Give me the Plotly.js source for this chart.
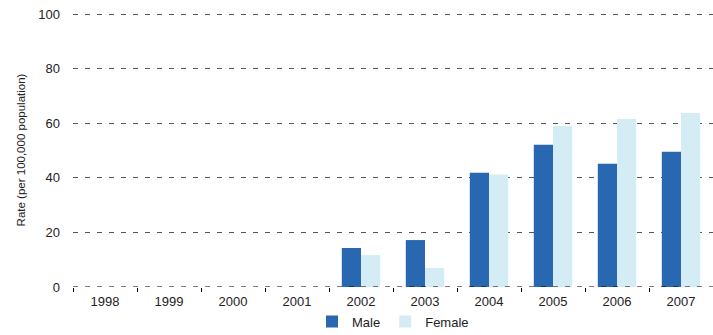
<!DOCTYPE html>
<html><head><meta charset="utf-8">
<script src="https://cdn.plot.ly/plotly-3.0.1.min.js"></script>
<style>html,body{margin:0;padding:0;background:#fff}#chart{width:713px;height:335px}</style>
</head><body><div id="chart"></div>
<script>
const years = ['1998','1999','2000','2001','2002','2003','2004','2005','2006','2007'];
const male = [null,null,null,null,14.3,17.2,41.9,52.1,45.2,49.6];
const female = [null,null,null,null,11.7,7.0,41.2,59.0,61.6,63.8];
const yTicks = [0,20,40,60,80,100];

const traces = [
  {type:'bar', name:'Male', x:years, y:male, marker:{color:'#2a67b1'}},
  {type:'bar', name:'Female', x:years, y:female, marker:{color:'#d4edf4'}}
];
const layout = {
  width:713, height:335,
  margin:{l:73, r:0, t:13, b:48, autoexpand:false},
  paper_bgcolor:'#fff', plot_bgcolor:'#fff',
  font:{family:'Liberation Sans, Arial, sans-serif', color:'#222', size:13},
  barmode:'group', bargap:0.4, bargroupgap:0,
  xaxis:{type:'category', showgrid:false, zeroline:false, showline:false, automargin:false,
    ticks:'outside', tickson:'boundaries', ticklen:4, tickcolor:'#000', tickwidth:1,
    ticklabelstandoff:5, tickfont:{size:13}},
  yaxis:{range:[0,100.4], tickvals:yTicks, showgrid:true, gridcolor:'#555', griddash:'5px,7px', gridwidth:1,
    zeroline:false, showline:false, ticks:'', ticklabelstandoff:12, tickfont:{size:13}, automargin:false,
    title:{text:'Rate (per 100,000 population)', font:{size:11.5, color:'#222'}, standoff:10}},
  showlegend:true,
  legend:{orientation:'h', x:0.5, xanchor:'center', xref:'paper', yref:'container', y:0.085, yanchor:'top', font:{size:13},
    traceorder:'normal'},
  shapes:[{type:'line', xref:'paper', x0:0, x1:1, yref:'y', y0:0, y1:0, line:{color:'#000', width:1, dash:'5px,7px'}, layer:'above'}]
};
Plotly.newPlot('chart', traces, layout, {displayModeBar:false, staticPlot:true});
</script></body></html>
